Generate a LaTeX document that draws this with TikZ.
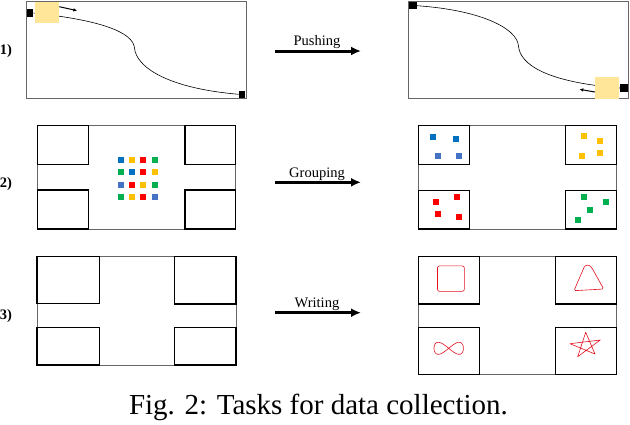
\documentclass[tikz,border=0pt]{standalone}
\usepackage{fontspec}
\setmainfont{Liberation Serif}
\usetikzlibrary{arrows.meta}
\definecolor{objyellow}{HTML}{FFE699}
\definecolor{cblue}{HTML}{0070C0}
\definecolor{clblue}{HTML}{4472C4}
\definecolor{cyellow}{HTML}{FFC000}
\definecolor{cred}{HTML}{FF0000}
\definecolor{cgreen}{HTML}{00B050}
\definecolor{penred}{HTML}{E3101F}
\begin{document}
\begin{tikzpicture}[x=1pt,y=-1pt,
  outer/.style={draw=black!60, line width=1pt},
  innerbox/.style={draw=black, line width=1.3pt},
  bigarrow/.style={line width=3pt, -{Latex[length=10pt,width=9pt]}},
  smallarrow/.style={line width=1pt, -{Latex[length=4pt,width=3.5pt]}},
  track/.style={line width=0.6pt},
  blk/.style={fill=black, draw=none},
  obj/.style={fill=objyellow, draw=none},
  sq/.style={draw=none, minimum size=6pt, inner sep=0pt},
  pen/.style={draw=penred, line width=0.6pt},
  numlbl/.style={font=\fontsize{14.5}{16}\selectfont\bfseries},
  arrlbl/.style={font=\fontsize{14.5}{16}\selectfont, anchor=base},
]
\useasboundingbox (0,0) rectangle (630,424);

% ---------- Row 1: pushing ----------
\node[numlbl] (n1) at (6,51) {1)};
\draw[outer] (26,1.5) rectangle (246,98.5);
\draw[track] (33.3,13) .. controls (100,20) and (133,32) .. (134.5,48)
  .. controls (136,66) and (165,88) .. (238.7,94.3);
\fill[blk] (26.7,9.3) rectangle (33.3,16.7);
\fill[blk] (238.7,90.7) rectangle (245.3,98);
\fill[obj] (35.3,1.7) rectangle (59.3,23.3);
\coordinate (pa1) at (59.3,6.7);
\coordinate (pa2) at (77.3,10.7);
\draw[smallarrow] (pa1) -- (pa2);

\coordinate (a1s) at (275,51);
\coordinate (a1e) at (361,51);
\draw[bigarrow] (a1s) -- (a1e);
\node[arrlbl] (t1) at (317,45.3) {Pushing};

\draw[outer] (408,1.5) rectangle (628.5,98.5);
\draw[track] (416.7,5.7) .. controls (480,10) and (517,28) .. (518.5,46)
  .. controls (520,64) and (545,82) .. (620,88);
\fill[blk] (408.7,1.7) rectangle (416.7,9.3);
\fill[blk] (620,84) rectangle (628,92);
\fill[obj] (595,77.3) rectangle (618.7,98.7);
\coordinate (pb1) at (595,92);
\coordinate (pb2) at (579.3,89.3);
\draw[smallarrow] (pb1) -- (pb2);

% ---------- Row 2: grouping ----------
\node[numlbl] (n2) at (6,184) {2)};
\draw[outer] (37.7,125.7) rectangle (235.3,229);
\draw[innerbox] (37.7,125.7) rectangle (88.3,164.3);
\draw[innerbox] (37.7,190) rectangle (88.3,229);
\draw[innerbox] (185,125.7) rectangle (235.3,164.3);
\draw[innerbox] (185,190) rectangle (235.3,229);

\node[sq, fill=cblue]   (g11) at (120.8,160.2) {};
\node[sq, fill=cyellow] (g12) at (132.2,160.2) {};
\node[sq, fill=cred]    (g13) at (142.8,160.2) {};
\node[sq, fill=cgreen]  (g14) at (154.8,160.2) {};
\node[sq, fill=cgreen]  (g21) at (120.8,172) {};
\node[sq, fill=cblue]   (g22) at (132.2,172) {};
\node[sq, fill=cred]    (g23) at (142.8,172) {};
\node[sq, fill=cyellow] (g24) at (154.8,172) {};
\node[sq, fill=clblue]  (g31) at (120.8,184.7) {};
\node[sq, fill=cred]    (g32) at (132.2,184.7) {};
\node[sq, fill=cyellow] (g33) at (142.8,184.7) {};
\node[sq, fill=cgreen]  (g34) at (154.8,184.7) {};
\node[sq, fill=cgreen]  (g41) at (120.8,197.3) {};
\node[sq, fill=cyellow] (g42) at (132.2,197.3) {};
\node[sq, fill=cred]    (g43) at (142.8,197.3) {};
\node[sq, fill=clblue]  (g44) at (154.8,196.7) {};

\coordinate (a2s) at (275,182.3);
\coordinate (a2e) at (361,182.3);
\draw[bigarrow] (a2s) -- (a2e);
\node[arrlbl] (t2) at (317,177) {Grouping};

\draw[outer] (418.7,125.7) rectangle (616.7,229);
\draw[innerbox] (418.7,125.7) rectangle (469.7,164.3);
\draw[innerbox] (418.7,190.3) rectangle (469.7,229);
\draw[innerbox] (565.3,125.7) rectangle (616.7,164.3);
\draw[innerbox] (565.3,190.3) rectangle (616.7,229);

\node[sq, fill=cblue]  (b1) at (433.3,136.7) {};
\node[sq, fill=cblue]  (b2) at (456.3,139) {};
\node[sq, fill=clblue] (b3) at (438.3,156) {};
\node[sq, fill=clblue] (b4) at (458.7,156) {};
\node[sq, fill=cyellow] (y1) at (584.3,135.7) {};
\node[sq, fill=cyellow] (y2) at (600,141) {};
\node[sq, fill=cyellow] (y3) at (582,155.7) {};
\node[sq, fill=cyellow] (y4) at (600.3,153) {};
\node[sq, fill=cred] (r1) at (435.7,201.7) {};
\node[sq, fill=cred] (r2) at (457,197) {};
\node[sq, fill=cred] (r3) at (437.7,213.7) {};
\node[sq, fill=cred] (r4) at (458.7,216.7) {};
\node[sq, fill=cgreen] (e1) at (584,197.3) {};
\node[sq, fill=cgreen] (e2) at (606.3,201.7) {};
\node[sq, fill=cgreen] (e3) at (590.3,209.7) {};
\node[sq, fill=cgreen] (e4) at (578,220.3) {};

% ---------- Row 3: writing ----------
\node[numlbl] (n3) at (6,316) {3)};
\draw[outer] (37,256.7) rectangle (236,365);
\draw[innerbox] (37,256.7) rectangle (99.3,303.3);
\draw[innerbox] (37,327.3) rectangle (99.3,365);
\draw[innerbox] (174.3,256.7) rectangle (236,304);
\draw[innerbox] (174.3,327.3) rectangle (236,365);

\coordinate (a3s) at (275,312.7);
\coordinate (a3e) at (361,312.7);
\draw[bigarrow] (a3s) -- (a3e);
\node[arrlbl] (t3) at (317,307.7) {Writing};

\draw[outer] (418.3,256.7) rectangle (616.7,374.3);
\draw[innerbox] (418.3,256.7) rectangle (479.3,304);
\draw[innerbox] (418.3,327.3) rectangle (479.3,374.3);
\draw[innerbox] (555.3,256.7) rectangle (616.7,304);
\draw[innerbox] (555.3,327.3) rectangle (616.7,374.3);

% drawn shapes
\draw[pen, rounded corners=2pt] (437.5,265.9) rectangle (464.3,291.3);
\draw[pen, rounded corners=1.5pt] (574,290.7) -- (583.5,268.5)
  .. controls (585.5,264.5) and (589,264.5) .. (592,268)
  -- (603.7,289) -- cycle;
\draw[pen] plot[domain=0:360, samples=72, smooth cycle]
  ({448.7+14.7*cos(\x)}, {348.3+6*sin(2*\x)});
\draw[pen, line join=round] (585.7,332.3) -- (577.7,356.7) -- (600.3,340)
  -- (570,343.7) -- (595,354) -- cycle;

% ---------- Caption ----------
\node[font=\fontsize{29}{33}\selectfont, anchor=base] (cap) at (318.5,414.3)
  {Fig. 2: Tasks for data collection.};
\end{tikzpicture}
\end{document}
